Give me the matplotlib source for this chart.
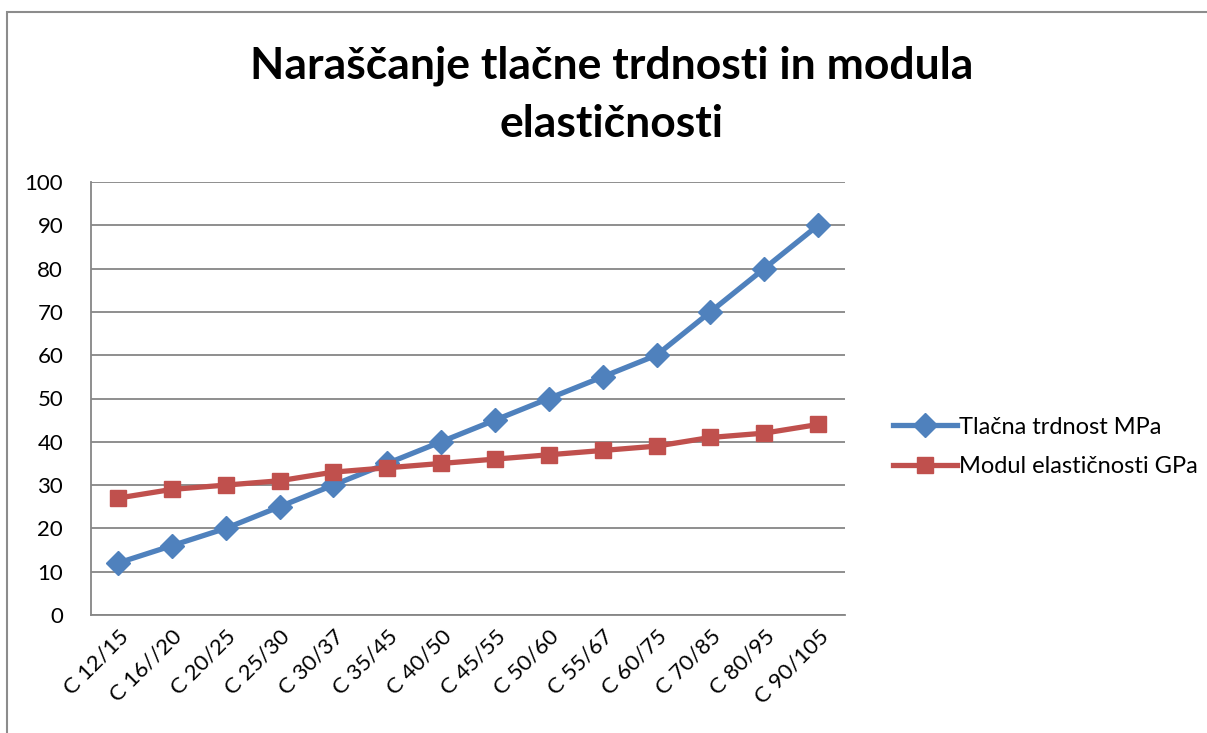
import matplotlib

matplotlib.use("Agg")
import matplotlib.pyplot as plt
from matplotlib.patches import Rectangle

plt.rcParams["font.family"] = ["Lato", "DejaVu Sans"]

categories = ["C 12/15", "C 16//20", "C 20/25", "C 25/30", "C 30/37", "C 35/45", "C 40/50",
              "C 45/55", "C 50/60", "C 55/67", "C 60/75", "C 70/85", "C 80/95", "C 90/105"]
tlacna = [12, 16, 20, 25, 30, 35, 40, 45, 50, 55, 60, 70, 80, 90]
modul = [27, 29, 30, 31, 33, 34, 35, 36, 37, 38, 39, 41, 42, 44]
y_ticks = list(range(0, 101, 10))

blue = "#4F81BD"
red = "#C0504D"
grid_col = "#868686"

W, H = 1207, 733
fig = plt.figure(figsize=(W / 100, H / 100), dpi=100)
ax = fig.add_axes([91 / W, 1 - 615 / H, (845 - 91) / W, (615 - 182) / H])

x = list(range(len(categories)))
ax.plot(x, tlacna, color=blue, linewidth=3.8, marker="D", markersize=12,
        label="Tlačna trdnost MPa", zorder=3)
ax.plot(x, modul, color=red, linewidth=3.8, marker="s", markersize=12,
        label="Modul elastičnosti GPa", zorder=3)

ax.set_xlim(-0.5, len(categories) - 0.5)
ax.set_ylim(0, 100)
ax.set_yticks(y_ticks)
ax.set_xticks(x)
ax.set_xticklabels(categories, rotation=45, ha="right", rotation_mode="anchor")
ax.tick_params(axis="both", labelsize=16, length=0, pad=8)
ax.tick_params(axis="y", pad=20)
ax.grid(axis="y", color=grid_col, linewidth=1.3)
ax.set_axisbelow(True)
for side in ["top", "right"]:
    ax.spines[side].set_visible(False)
ax.spines["left"].set_color(grid_col)
ax.spines["left"].set_linewidth(1.3)
ax.spines["bottom"].set_color(grid_col)
ax.spines["bottom"].set_linewidth(1.3)

fig.text(612 / W, 1 - 66 / H, "Naraščanje tlačne trdnosti in modula", ha="center", va="center",
         fontsize=32, fontweight="bold")
fig.text(612 / W, 1 - 124 / H, "elastičnosti", ha="center", va="center",
         fontsize=32, fontweight="bold")

fig.legend(loc="center left", bbox_to_anchor=(872 / W, 1 - 447 / H), frameon=False,
           fontsize=17, handlelength=2.7, handletextpad=0.1, labelspacing=0.8)

fig.add_artist(Rectangle((7 / W, -0.05), 1.2, 1 - 12 / H + 0.05, transform=fig.transFigure,
                         fill=False, edgecolor="#8c8c8c", linewidth=1.5))

fig.savefig("out.png", dpi=100)
